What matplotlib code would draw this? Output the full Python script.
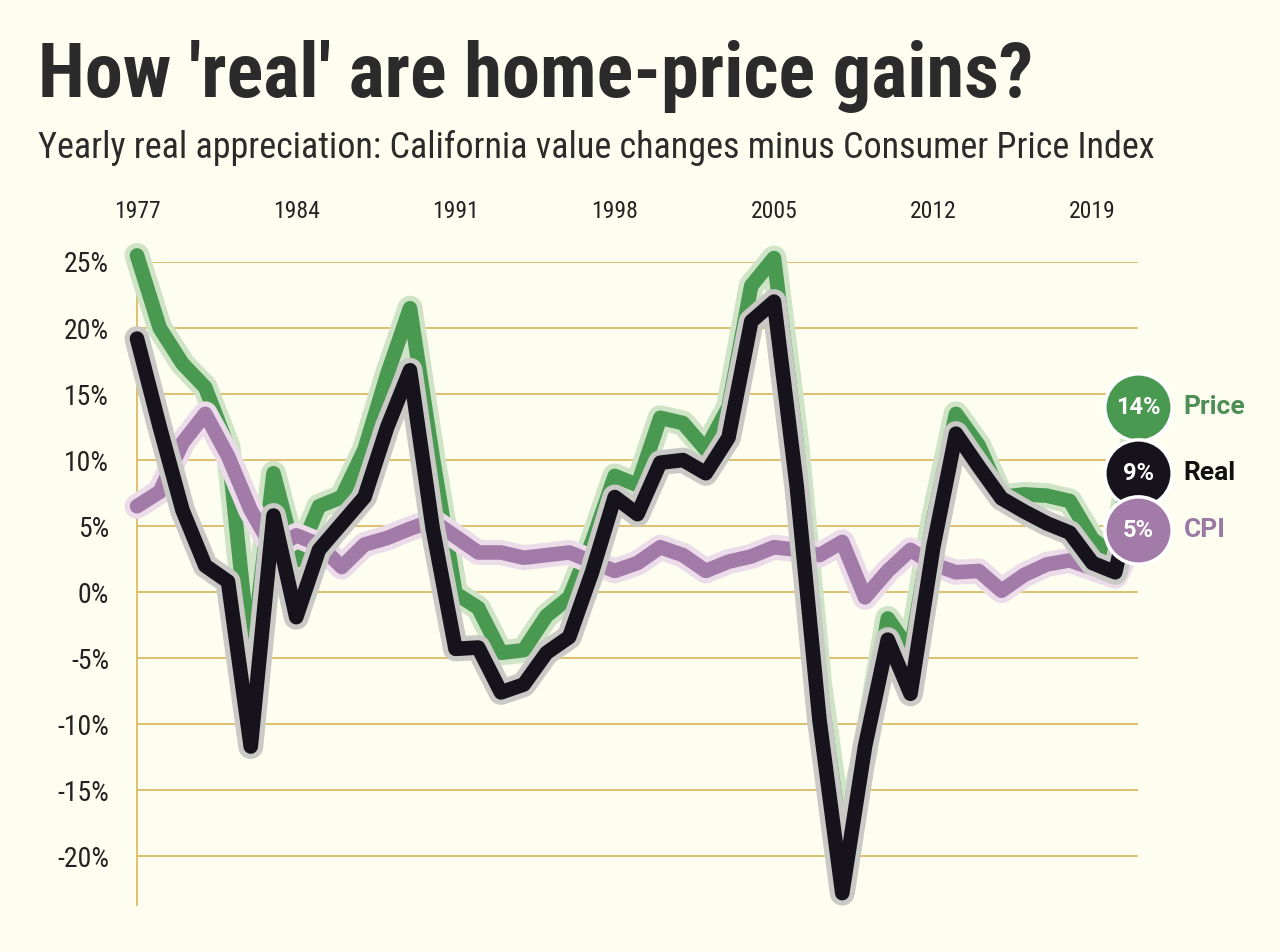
import matplotlib
matplotlib.use("Agg")
import matplotlib.pyplot as plt
import matplotlib.patheffects as pe
from matplotlib import font_manager

# ------------------ Data ------------------
YEARS = list(range(1977, 2022))

PRICE = [25.5, 20.0, 17.3, 15.5, 11.0, -5.6, 9.0, 2.4, 6.5, 7.2,
         10.8, 16.5, 21.5, 10.2, -0.1, -1.2, -4.6, -4.4, -1.8, -0.4,
         3.8, 8.8, 8.1, 13.2, 12.8, 10.8, 14.0, 23.2, 25.3, 11.2,
         -6.9, -19.5, -12.1, -2.0, -4.5, 5.5, 13.5, 11.1, 7.2, 7.4,
         7.3, 6.9, 4.0, 2.7, 14.0]

REAL = [19.2, 12.5, 6.2, 2.0, 0.8, -11.7, 5.8, -1.9, 3.2, 5.2,
        7.2, 12.5, 16.8, 4.8, -4.3, -4.2, -7.6, -7.0, -4.6, -3.4,
        1.5, 7.2, 5.9, 9.8, 10.0, 9.0, 11.7, 20.5, 22.0, 8.0,
        -9.7, -22.8, -11.7, -3.6, -7.7, 3.4, 12.0, 9.5, 7.1, 6.1,
        5.2, 4.5, 2.2, 1.5, 9.0]

CPI = [6.5, 7.6, 11.3, 13.5, 10.3, 6.2, 3.2, 4.3, 3.6, 1.9,
       3.6, 4.1, 4.8, 5.4, 4.2, 3.0, 3.0, 2.6, 2.8, 3.0,
       2.3, 1.6, 2.2, 3.4, 2.8, 1.6, 2.3, 2.7, 3.4, 3.2,
       2.8, 3.8, -0.4, 1.6, 3.2, 2.1, 1.5, 1.6, 0.1, 1.3,
       2.1, 2.4, 1.8, 1.2, 4.7]

END_LABELS = ["14%", "9%", "5%"]
SERIES_NAMES = ["Price", "Real", "CPI"]
X_TICKS = [1977, 1984, 1991, 1998, 2005, 2012, 2019]
Y_TICKS = [-20, -15, -10, -5, 0, 5, 10, 15, 20, 25]

TITLE = "How 'real' are home-price gains?"
SUBTITLE = "Yearly real appreciation: California value changes minus Consumer Price Index"

# ------------------ Style ------------------
BG      = "#fdfdf0"
GRID    = "#d9b65a"
GREEN   = "#4a9951"
BLACK   = "#17131d"
PURPLE  = "#a27ba8"
HALOS   = {"Price": "#cfe4c6", "Real": "#c9c9c6", "CPI": "#ecdcea"}
COLORS  = {"Price": GREEN, "Real": BLACK, "CPI": PURPLE}
TEXT_COLORS = {"Price": "#4f8f57", "Real": "#111111", "CPI": "#9a7aa3"}

installed = {f.name for f in font_manager.fontManager.ttflist}

def pick(cands):
    for c in cands:
        if c in installed:
            return c
    return "DejaVu Sans"

NARROW = pick(["Roboto Condensed", "Liberation Sans Narrow", "DejaVu Sans"])
ROBOTO = pick(["Roboto", "DejaVu Sans"])

# ------------------ Figure ------------------
fig = plt.figure(figsize=(12.8, 9.52), dpi=100, facecolor=BG)
ax = fig.add_axes([137 / 1280, 47 / 952, 1001 / 1280, 643 / 952])
ax.set_facecolor(BG)
ax.set_xlim(1977, 2021)
ax.set_ylim(-23.7, 25)

for y in Y_TICKS:
    ax.axhline(y, color=GRID, lw=1.2, zorder=1)
for s in ["top", "right", "bottom"]:
    ax.spines[s].set_visible(False)
ax.spines["left"].set_color(GRID)
ax.spines["left"].set_linewidth(1.2)
ax.spines["left"].set_bounds(-23.7, 25)

ax.set_yticks(Y_TICKS)
ax.set_yticklabels([f"{v}%" for v in Y_TICKS], fontsize=20, family=NARROW, color="#222222")
ax.tick_params(axis="y", length=0, pad=20)
ax.xaxis.tick_top()
ax.set_xticks(X_TICKS)
ax.set_xticklabels([str(v) for v in X_TICKS], fontsize=17, family=NARROW, color="#222222")
ax.tick_params(axis="x", length=0, pad=28)

series = {"Price": PRICE, "Real": REAL, "CPI": CPI}
order = [("Price", 3), ("CPI", 4), ("Real", 5)]
for name, z in order:
    ax.plot(YEARS, series[name], color=COLORS[name], lw=10.5, zorder=z,
            solid_joinstyle="round", solid_capstyle="round", clip_on=False,
            path_effects=[pe.Stroke(linewidth=18, foreground=HALOS[name]), pe.Normal()])

# end labels
for name, lab in zip(SERIES_NAMES, END_LABELS):
    yv = series[name][-1]
    ax.scatter([YEARS[-1]], [yv], s=2350, color=COLORS[name], edgecolor="white",
               linewidth=2.5, zorder=10, clip_on=False)
    ax.text(YEARS[-1], yv, lab, color="white", fontsize=17, fontweight="bold",
            family=ROBOTO, ha="center", va="center", zorder=11)
    ax.annotate(name, (YEARS[-1], yv), xytext=(33, 0), textcoords="offset points",
                color=TEXT_COLORS[name], fontsize=19, fontweight="bold", family=ROBOTO,
                ha="left", va="center", zorder=11, annotation_clip=False)

fig.text(38 / 1280, 1 - 97 / 952, TITLE, fontsize=55, fontweight="bold",
         family=NARROW, color="#2b2b2b", ha="left", va="baseline")
fig.text(38 / 1280, 1 - 158 / 952, SUBTITLE, fontsize=26, family=NARROW,
         color="#2b2b2b", ha="left", va="baseline")

fig.savefig("out.png", dpi=100, facecolor=BG)
